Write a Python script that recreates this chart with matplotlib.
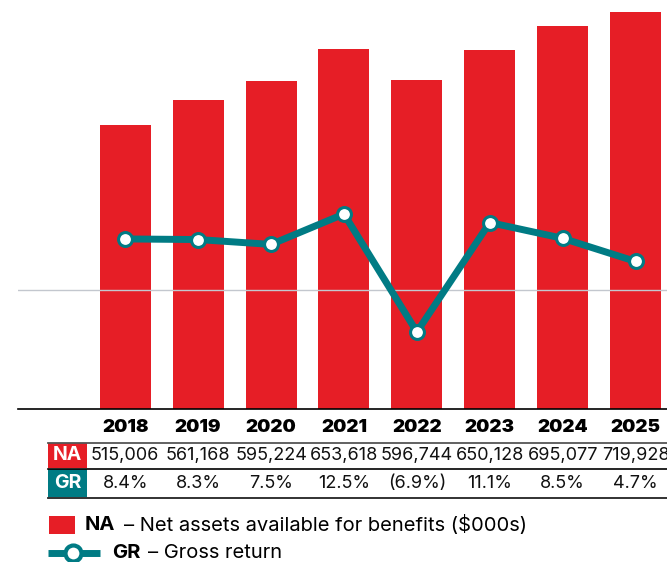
import matplotlib
matplotlib.use("Agg")
import matplotlib.pyplot as plt
import matplotlib.transforms as mtransforms
from matplotlib.patches import Rectangle
from matplotlib.lines import Line2D
import numpy as np

years = ["2018", "2019", "2020", "2021", "2022", "2023", "2024", "2025"]
net_assets = [515006, 561168, 595224, 653618, 596744, 650128, 695077, 719928]
gross_return = [8.4, 8.3, 7.5, 12.5, -6.9, 11.1, 8.5, 4.7]
na_labels = ["515,006", "561,168", "595,224", "653,618", "596,744", "650,128", "695,077", "719,928"]
gr_labels = ["8.4%", "8.3%", "7.5%", "12.5%", "(6.9%)", "11.1%", "8.5%", "4.7%"]

RED = "#E61E26"
TEAL = "#007B84"
FONT = "Inter"

W, H = 667, 562
fig = plt.figure(figsize=(W / 100, H / 100), dpi=100)


def fy(py):
    # pixel from top -> figure fraction
    return 1 - py / H


# main axes spans x 18..667 px, y 0..409 px
ax_left, ax_right, ax_top, ax_bot = 18, 667, 0, 409
ax = fig.add_axes([ax_left / W, fy(ax_bot), (ax_right - ax_left) / W, (ax_bot - ax_top) / H])
x = np.arange(len(years))
ax.bar(x, net_assets, width=0.7, color=RED, zorder=2)
ax.set_ylim(0, 741700)
ax.set_xlim(-1.47, 7.43)
for s in ["top", "right", "left"]:
    ax.spines[s].set_visible(False)
ax.spines["bottom"].set_color("black")
ax.spines["bottom"].set_linewidth(1.2)
ax.set_xticks([])
ax.set_yticks([])

ax2 = ax.twinx()
ax2.set_ylim(-19.57, 47.7)
ax2.axhline(0, color="#C3C7CE", lw=1, zorder=1)
ax2.plot(x, gross_return, color=TEAL, lw=5, marker="o", markersize=10,
         markerfacecolor="white", markeredgecolor=TEAL, markeredgewidth=2.2, zorder=3)
ax2.set_axis_off()
ax.set_zorder(1)
ax2.set_zorder(2)
ax2.patch.set_visible(False)

# table
blend = mtransforms.blended_transform_factory(ax.transData, fig.transFigure)
for i, yr in enumerate(years):
    ax.text(i, fy(428), yr, transform=blend, ha="center", va="center",
            fontsize=13.5, fontweight=900, family=FONT, color="black")
    ax.text(i, fy(455.5), na_labels[i], transform=blend, ha="center", va="center",
            fontsize=13, family=FONT, color="#111111")
    ax.text(i, fy(483.5), gr_labels[i], transform=blend, ha="center", va="center",
            fontsize=13, family=FONT, color="#111111")

tbl_left = 48 / W
for py, col, lw in [(442.5, "#555555", 1.3), (468.5, "black", 1.2), (497.5, "#222222", 1.3)]:
    fig.add_artist(Line2D([tbl_left, 1], [fy(py), fy(py)], color=col, lw=lw))

fig.add_artist(Rectangle((48 / W, fy(468)), 39 / W, 25 / H, color=RED, lw=0))
fig.add_artist(Rectangle((48 / W, fy(497)), 39 / W, 28 / H, color=TEAL, lw=0))
fig.text(67.5 / W, fy(455.5), "NA", ha="center", va="center", color="white",
         fontsize=14, fontweight="bold", family=FONT)
fig.text(67.5 / W, fy(483), "GR", ha="center", va="center", color="white",
         fontsize=14, fontweight="bold", family=FONT)

# legend
fig.add_artist(Rectangle((49 / W, fy(534)), 26 / W, 18 / H, color=RED, lw=0))
fig.text(85 / W, fy(525), "NA", ha="left", va="center", fontsize=14.5,
         fontweight="bold", family=FONT)
fig.text(124 / W, fy(525), "– Net assets available for benefits ($000s)", ha="left",
         va="center", fontsize=14.5, family=FONT)
fig.add_artist(Line2D([48 / W, 100 / W], [fy(553), fy(553)], color=TEAL, lw=5,
                      solid_capstyle="butt"))
fig.add_artist(Line2D([73 / W], [fy(553)], marker="o", markersize=11.5,
                      markerfacecolor="white", markeredgecolor=TEAL, markeredgewidth=3))
fig.text(112 / W, fy(553), "GR", ha="left", va="center", fontsize=14.5,
         fontweight="bold", family=FONT)
fig.text(148 / W, fy(553), "– Gross return", ha="left", va="center",
         fontsize=14.5, family=FONT)

fig.savefig("out.png", dpi=100)
